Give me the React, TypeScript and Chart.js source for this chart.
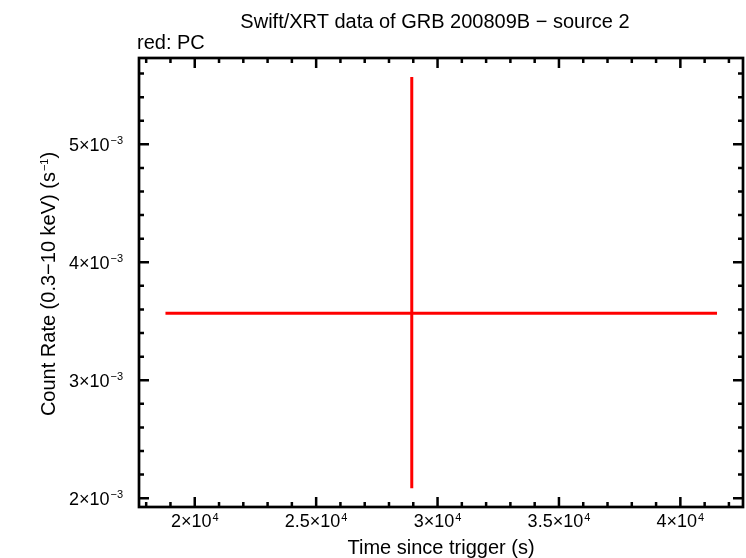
import { useEffect, useRef } from "react"
import { Chart, registerables } from "chart.js"

Chart.register(...registerables)

// one PC-mode bin
const times = [28938]
const timeErrMinus = [10144]
const timeErrPlus = [12572]
const rates = [3.567e-3]
const rateErrMinus = [1.483e-3]
const rateErrPlus = [2.004e-3]

const xMajorTicks = [20000, 25000, 30000, 35000, 40000]
const xTickLabels = [["2×10", "4"], ["2.5×10", "4"], ["3×10", "4"], ["3.5×10", "4"], ["4×10", "4"]]
const yMajorTicks = [0.002, 0.003, 0.004, 0.005]
const yTickLabels = [["2×10", "−3"], ["3×10", "−3"], ["4×10", "−3"], ["5×10", "−3"]]

const FONT = "Liberation Sans, Arial, Helvetica, sans-serif"
const TICK = 18
const SUP = 11
const LABEL = 20

// text with a raised exponent, returns total width
function supWidth(ctx: CanvasRenderingContext2D, base: string, sup: string, size = TICK) {
    ctx.font = `${size}px ${FONT}`
    const w1 = ctx.measureText(base).width
    ctx.font = `${SUP}px ${FONT}`
    const w2 = ctx.measureText(sup).width
    return w1 + w2 + 1
}

function drawSup(ctx: CanvasRenderingContext2D, base: string, sup: string, x: number, y: number, size = TICK) {
    // x = left, y = baseline
    ctx.textAlign = "left"
    ctx.textBaseline = "alphabetic"
    ctx.font = `${size}px ${FONT}`
    ctx.fillText(base, x, y)
    const w1 = ctx.measureText(base).width
    ctx.font = `${SUP}px ${FONT}`
    ctx.fillText(sup, x + w1 + 1, y - size * 0.36)
}

const framePlugin = {
    id: "frame",
    afterDraw(chart: any) {
        const ctx: CanvasRenderingContext2D = chart.ctx
        const { left, right, top, bottom } = chart.chartArea
        const xs = chart.scales.x
        const ys = chart.scales.y
        ctx.save()
        ctx.strokeStyle = "#000"
        ctx.fillStyle = "#000"
        ctx.lineWidth = 2.7
        ctx.strokeRect(left, top, right - left, bottom - top)

        ctx.lineWidth = 2.5
        // x ticks every 1000, majors every 5000
        for (let v = 18000; v <= 42000; v += 1000) {
            const px = xs.getPixelForValue(v)
            const len = v % 5000 === 0 ? 10 : 5
            ctx.beginPath()
            ctx.moveTo(px, bottom); ctx.lineTo(px, bottom - len)
            ctx.moveTo(px, top); ctx.lineTo(px, top + len)
            ctx.stroke()
        }
        // y ticks every 0.2e-3
        for (let i = 10; i <= 28; i++) {
            const v = i * 0.0002
            const py = ys.getPixelForValue(v)
            if (py < top || py > bottom) continue
            const len = i % 5 === 0 ? 10 : 5
            ctx.beginPath()
            ctx.moveTo(left, py); ctx.lineTo(left + len, py)
            ctx.moveTo(right, py); ctx.lineTo(right - len, py)
            ctx.stroke()
        }

        // tick labels
        xMajorTicks.forEach((v, i) => {
            const [b, s] = xTickLabels[i]
            const w = supWidth(ctx, b, s)
            drawSup(ctx, b, s, xs.getPixelForValue(v) - w / 2, 527)
        })
        yMajorTicks.forEach((v, i) => {
            const [b, s] = yTickLabels[i]
            const w = supWidth(ctx, b, s)
            drawSup(ctx, b, s, 123 - w, ys.getPixelForValue(v) + 6.5)
        })

        // titles
        ctx.font = `${LABEL}px ${FONT}`
        ctx.textAlign = "center"
        ctx.textBaseline = "alphabetic"
        ctx.fillText("Swift/XRT data of GRB 200809B − source 2", 435, 28)
        ctx.fillText("Time since trigger (s)", 441, 554)
        ctx.textAlign = "left"
        ctx.fillText("red: PC", 137, 49)

        // y axis title, rotated
        ctx.translate(55, 284)
        ctx.rotate(-Math.PI / 2)
        const base = "Count Rate (0.3−10 keV) (s"
        const w12 = supWidth(ctx, base, "−1", LABEL)
        ctx.font = `${LABEL}px ${FONT}`
        const w3 = ctx.measureText(")").width
        const x0 = -(w12 + w3) / 2
        drawSup(ctx, base, "−1", x0, 0, LABEL)
        ctx.font = `${LABEL}px ${FONT}`
        ctx.fillText(")", x0 + w12, 0)
        ctx.restore()
    },
}

export default function App() {
    const canvasRef = useRef<HTMLCanvasElement>(null)
    useEffect(() => {
        const el = canvasRef.current
        if (el == null) return
        const datasets: any[] = []
        times.forEach((t, i) => {
            const r = rates[i]
            datasets.push({
                data: [{ x: t - timeErrMinus[i], y: r }, { x: t + timeErrPlus[i], y: r }],
                borderColor: "#ff0000",
                borderWidth: 3,
                pointRadius: 0,
                borderCapStyle: "butt",
            })
            datasets.push({
                data: [{ x: t, y: r - rateErrMinus[i] }, { x: t, y: r + rateErrPlus[i] }],
                borderColor: "#ff0000",
                borderWidth: 3,
                pointRadius: 0,
                borderCapStyle: "butt",
            })
        })
        const chart = new Chart(el, {
            type: "line",
            data: { datasets },
            options: {
                animation: false,
                responsive: false,
                devicePixelRatio: 1,
                layout: { padding: { left: 139, top: 58, right: 3, bottom: 51 } },
                plugins: { legend: { display: false }, tooltip: { enabled: false } },
                scales: {
                    x: { type: "linear", min: 17704, max: 42580, display: false },
                    y: { type: "linear", min: 0.001925, max: 0.005732, display: false },
                },
            },
            plugins: [framePlugin],
        })
        return () => chart.destroy()
    }, [])

    return (
        <div style={{ position: "fixed", left: 0, top: 0, width: 746, height: 558, background: "#fff" }}>
            <canvas ref={canvasRef} width={746} height={558} />
        </div>
    )
}
